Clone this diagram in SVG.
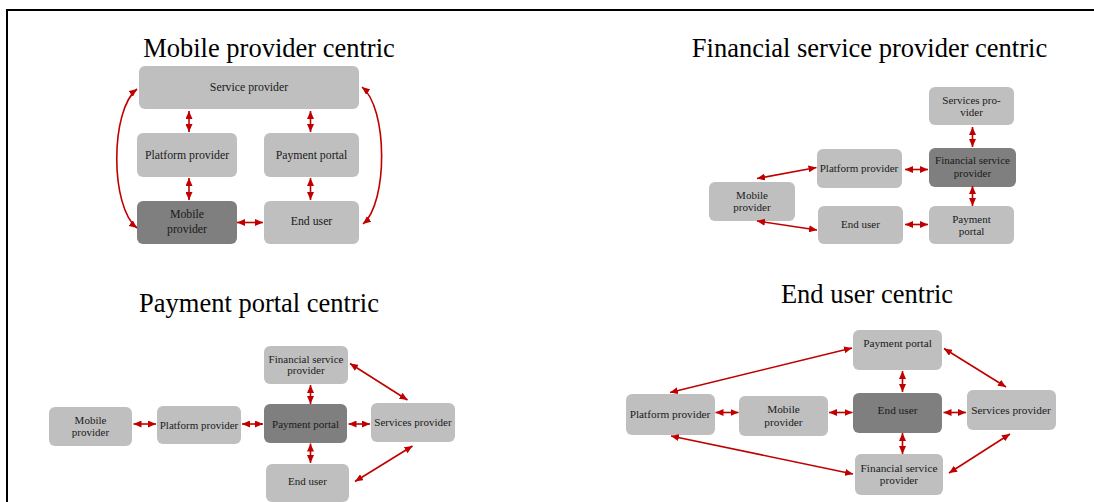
<svg xmlns="http://www.w3.org/2000/svg" width="1094" height="502" viewBox="0 0 1094 502">
  <defs>
    <marker id="head" viewBox="0 0 8 7" markerWidth="8" markerHeight="7" refX="8" refY="3.5" orient="auto-start-reverse" markerUnits="userSpaceOnUse">
      <path d="M0,0 L8,3.5 L0,7 z" fill="#c00000"/>
    </marker>
    <style>
      .box { fill: #bfbfbf; }
      .hub { fill: #7f7f7f; }
      .lbl { font-family: "Liberation Serif", "Times New Roman", serif; fill: #1a1a1a; text-anchor: middle; }
      .s12 { font-size: 11.8px; }
      .s11 { font-size: 11px; }
      .s115 { font-size: 11.3px; }
      .title { font-family: "Liberation Serif", "Times New Roman", serif; font-size: 26.5px; fill: #000; text-anchor: middle; }
      .link { stroke: #c00000; stroke-width: 1.6; fill: none; marker-start: url(#head); marker-end: url(#head); }
    </style>
  </defs>
  <rect width="1094" height="502" fill="#fff"/>
  <!-- frame: only the top and left edges fall inside the canvas -->
  <rect x="7" y="10" width="1200" height="700" fill="none" stroke="#000" stroke-width="2"/>

  <!-- titles -->
  <text class="title" x="269" y="57">Mobile provider centric</text>
  <text class="title" x="869.5" y="57">Financial service provider centric</text>
  <text class="title" x="259" y="312">Payment portal centric</text>
  <text class="title" x="867" y="303">End user centric</text>

  <!-- Mobile provider centric -->
  <g id="q1-service-provider">
    <rect class="box" x="139" y="66" width="220" height="43" rx="6"/>
    <text class="lbl s12" x="249" y="91">Service provider</text>
  </g>
  <g id="q1-platform-provider">
    <rect class="box" x="137" y="133" width="100" height="44" rx="6"/>
    <text class="lbl s12" x="187" y="158.5">Platform provider</text>
  </g>
  <g id="q1-payment-portal">
    <rect class="box" x="264" y="133" width="95" height="44" rx="6"/>
    <text class="lbl s12" x="311.5" y="158.5">Payment portal</text>
  </g>
  <g id="q1-mobile-provider">
    <rect class="hub" x="137" y="201" width="100" height="43" rx="6"/>
    <text class="lbl s12" x="187" y="218">Mobile</text>
    <text class="lbl s12" x="187" y="232.5">provider</text>
  </g>
  <g id="q1-end-user">
    <rect class="box" x="264" y="201" width="95" height="43" rx="6"/>
    <text class="lbl s12" x="311.5" y="225">End user</text>
  </g>

  <!-- Financial service provider centric -->
  <g id="q2-services-provider">
    <rect class="box" x="929" y="87" width="85" height="38" rx="6"/>
    <text class="lbl s11" x="971.5" y="103.5">Services pro-</text>
    <text class="lbl s11" x="971.5" y="115.5">vider</text>
  </g>
  <g id="q2-financial-service-provider">
    <rect class="hub" x="929" y="148" width="87" height="39" rx="6"/>
    <text class="lbl s11" x="972.5" y="164">Financial service</text>
    <text class="lbl s11" x="972.5" y="176.5">provider</text>
  </g>
  <g id="q2-platform-provider">
    <rect class="box" x="817" y="149" width="85" height="39" rx="6"/>
    <text class="lbl s11" x="859" y="172">Platform provider</text>
  </g>
  <g id="q2-mobile-provider">
    <rect class="box" x="709" y="182" width="86" height="39" rx="6"/>
    <text class="lbl s11" x="752" y="198.5">Mobile</text>
    <text class="lbl s11" x="752" y="211">provider</text>
  </g>
  <g id="q2-end-user">
    <rect class="box" x="818" y="206" width="85" height="38" rx="6"/>
    <text class="lbl s11" x="860.5" y="227.5">End user</text>
  </g>
  <g id="q2-payment-portal">
    <rect class="box" x="929" y="206" width="85" height="38" rx="6"/>
    <text class="lbl s11" x="971.5" y="222.5">Payment</text>
    <text class="lbl s11" x="971.5" y="235">portal</text>
  </g>

  <!-- Payment portal centric -->
  <g id="q3-financial-service-provider">
    <rect class="box" x="264" y="346" width="84" height="38" rx="6"/>
    <text class="lbl s11" x="306" y="362.5">Financial service</text>
    <text class="lbl s11" x="306" y="374">provider</text>
  </g>
  <g id="q3-payment-portal">
    <rect class="hub" x="264" y="404" width="83" height="39" rx="6"/>
    <text class="lbl s11" x="305.5" y="427.5">Payment portal</text>
  </g>
  <g id="q3-mobile-provider">
    <rect class="box" x="49" y="407" width="83" height="39" rx="6"/>
    <text class="lbl s11" x="90.5" y="423.5">Mobile</text>
    <text class="lbl s11" x="90.5" y="436">provider</text>
  </g>
  <g id="q3-platform-provider">
    <rect class="box" x="157" y="406" width="84" height="38" rx="6"/>
    <text class="lbl s11" x="199" y="429">Platform provider</text>
  </g>
  <g id="q3-services-provider">
    <rect class="box" x="371" y="403" width="84" height="39" rx="6"/>
    <text class="lbl s11" x="413" y="426">Services provider</text>
  </g>
  <g id="q3-end-user">
    <rect class="box" x="266" y="464" width="83" height="38" rx="6"/>
    <text class="lbl s11" x="307.5" y="485">End user</text>
  </g>

  <!-- End user centric -->
  <g id="q4-payment-portal">
    <rect class="box" x="853" y="330" width="89" height="40" rx="6"/>
    <text class="lbl s115" x="897.5" y="347">Payment portal</text>
  </g>
  <g id="q4-end-user">
    <rect class="hub" x="853" y="393" width="89" height="40" rx="6"/>
    <text class="lbl s115" x="897.5" y="414">End user</text>
  </g>
  <g id="q4-platform-provider">
    <rect class="box" x="626" y="394" width="89" height="41" rx="6"/>
    <text class="lbl s115" x="670" y="418">Platform provider</text>
  </g>
  <g id="q4-mobile-provider">
    <rect class="box" x="739" y="396" width="89" height="40" rx="6"/>
    <text class="lbl s115" x="783.5" y="412.5">Mobile</text>
    <text class="lbl s115" x="783.5" y="426">provider</text>
  </g>
  <g id="q4-services-provider">
    <rect class="box" x="967" y="390" width="89" height="40" rx="6"/>
    <text class="lbl s115" x="1011" y="413.5">Services provider</text>
  </g>
  <g id="q4-financial-service-provider">
    <rect class="box" x="855" y="454" width="88" height="41" rx="6"/>
    <text class="lbl s115" x="899" y="471.5">Financial service</text>
    <text class="lbl s115" x="899" y="484">provider</text>
  </g>

  <!-- two-way connectors -->
  <g id="connectors">
    <!-- Mobile provider centric -->
    <line class="link" x1="189" y1="111" x2="189" y2="132"/>
    <line class="link" x1="310.5" y1="111" x2="310.5" y2="132"/>
    <line class="link" x1="189" y1="178" x2="189" y2="200"/>
    <line class="link" x1="310.5" y1="178" x2="310.5" y2="200"/>
    <line class="link" x1="237" y1="222.5" x2="263" y2="222.5"/>
    <path class="link" d="M137,89 C110,110 110,207 137,228"/>
    <path class="link" d="M362,87 C388,108 388,203 363,224"/>

    <!-- Financial service provider centric -->
    <line class="link" x1="972.5" y1="127" x2="972.5" y2="147"/>
    <line class="link" x1="972.5" y1="186" x2="972.5" y2="206"/>
    <line class="link" x1="905" y1="169.5" x2="928" y2="169.5"/>
    <line class="link" x1="905" y1="224.5" x2="928" y2="224.5"/>
    <line class="link" x1="757" y1="178.5" x2="816.5" y2="167.5"/>
    <line class="link" x1="757" y1="221" x2="817" y2="230"/>

    <!-- Payment portal centric -->
    <line class="link" x1="133.5" y1="424" x2="156" y2="424"/>
    <line class="link" x1="242" y1="424" x2="263" y2="424"/>
    <line class="link" x1="348.5" y1="424" x2="370" y2="424"/>
    <line class="link" x1="310.5" y1="385" x2="310.5" y2="404"/>
    <line class="link" x1="310.5" y1="443.5" x2="310.5" y2="463"/>
    <line class="link" x1="350" y1="363.5" x2="407.5" y2="400"/>
    <line class="link" x1="355" y1="481.5" x2="412.5" y2="446"/>

    <!-- End user centric -->
    <line class="link" x1="715.5" y1="412.5" x2="738.5" y2="412.5"/>
    <line class="link" x1="829" y1="412.5" x2="852.5" y2="412.5"/>
    <line class="link" x1="943.5" y1="412.5" x2="966" y2="412.5"/>
    <line class="link" x1="902.5" y1="371" x2="902.5" y2="392"/>
    <line class="link" x1="902.5" y1="433" x2="902.5" y2="454"/>
    <line class="link" x1="670" y1="392.5" x2="852" y2="348"/>
    <line class="link" x1="671" y1="436" x2="853" y2="474"/>
    <line class="link" x1="944" y1="348.5" x2="1006" y2="387"/>
    <line class="link" x1="949" y1="473" x2="1010" y2="434"/>
  </g>
</svg>
